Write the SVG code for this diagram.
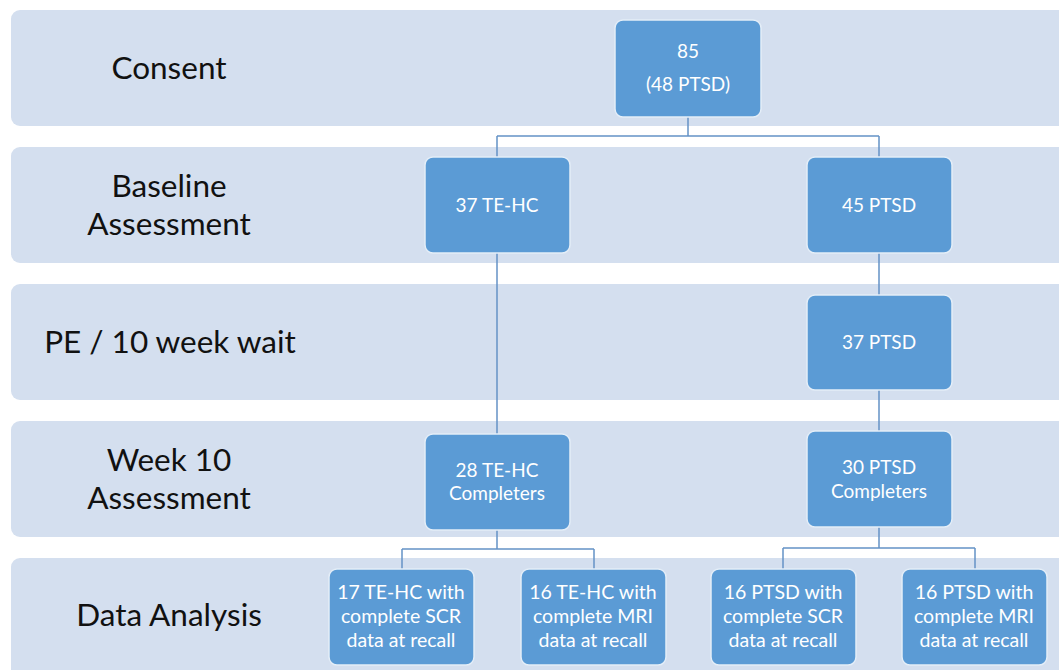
<svg xmlns="http://www.w3.org/2000/svg" width="1059" height="670" viewBox="0 0 1059 670">
<style>
.band{fill:#d4dfef;}
.lab{font-family:Lato,"Liberation Sans",sans-serif;font-size:31.5px;fill:#111;text-anchor:middle;}
.box{fill:#5b9bd5;stroke:#e4eef8;stroke-width:1.5;}
.bt{font-family:Lato,"Liberation Sans",sans-serif;font-size:19px;fill:#fff;text-anchor:middle;}
.bt2{font-family:Lato,"Liberation Sans",sans-serif;font-size:19.5px;fill:#fff;text-anchor:middle;}
.con{fill:none;stroke:#6492c6;stroke-width:1.5;}
</style>
<rect width="1059" height="670" fill="#fff"/>
<g id="bands">
<rect class="band" x="11" y="10" width="1070" height="116" rx="9"/>
<rect class="band" x="11" y="147" width="1070" height="116" rx="9"/>
<rect class="band" x="11" y="284" width="1070" height="116" rx="9"/>
<rect class="band" x="11" y="421" width="1070" height="116" rx="9"/>
<rect class="band" x="11" y="558" width="1070" height="130" rx="9"/>
</g>
<g id="stage-labels">
<text class="lab" x="169" y="79">Consent</text>
<text class="lab" x="169" y="197">Baseline</text>
<text class="lab" x="169" y="235">Assessment</text>
<text class="lab" x="170" y="353">PE / 10 week wait</text>
<text class="lab" x="169" y="471">Week 10</text>
<text class="lab" x="169" y="509">Assessment</text>
<text class="lab" x="169" y="626">Data Analysis</text>
</g>
<g id="connectors">
<path class="con" d="M688 117V136M497 136H879M497 136V157M879 136V157"/>
<path class="con" d="M497 253V434"/>
<path class="con" d="M879 253V295M879 390V431"/>
<path class="con" d="M497 530V549M402 549H594M402 549V569M594 549V569"/>
<path class="con" d="M879 527V548M783 548H975M783 548V569M975 548V569"/>
</g>
<g id="n85"><rect class="box" x="615" y="20" width="146" height="97" rx="8"/><text class="bt" x="688" y="58">85</text><text class="bt" x="688" y="91">(48 PTSD)</text></g>
<g id="n37tehc"><rect class="box" x="425" y="157" width="145" height="96" rx="8"/><text class="bt" x="497" y="212">37 TE-HC</text></g>
<g id="n45ptsd"><rect class="box" x="807" y="157" width="145" height="96" rx="8"/><text class="bt" x="879" y="212">45 PTSD</text></g>
<g id="n37ptsd"><rect class="box" x="807" y="295" width="145" height="95" rx="8"/><text class="bt" x="879" y="349">37 PTSD</text></g>
<g id="n28tehc"><rect class="box" x="425" y="434" width="145" height="96" rx="8"/><text class="bt" x="497" y="477">28 TE-HC</text><text class="bt" x="497" y="500">Completers</text></g>
<g id="n30ptsd"><rect class="box" x="807" y="431" width="145" height="96" rx="8"/><text class="bt" x="879" y="474">30 PTSD</text><text class="bt" x="879" y="498">Completers</text></g>
<g id="n17tehc-scr"><rect class="box" x="329" y="569" width="145" height="96" rx="8"/><text class="bt2" x="401" y="599">17 TE-HC with</text><text class="bt2" x="401" y="623">complete SCR</text><text class="bt2" x="401" y="647">data at recall</text></g>
<g id="n16tehc-mri"><rect class="box" x="521" y="569" width="145" height="96" rx="8"/><text class="bt2" x="593" y="599">16 TE-HC with</text><text class="bt2" x="593" y="623">complete MRI</text><text class="bt2" x="593" y="647">data at recall</text></g>
<g id="n16ptsd-scr"><rect class="box" x="711" y="569" width="145" height="96" rx="8"/><text class="bt2" x="783" y="599">16 PTSD with</text><text class="bt2" x="783" y="623">complete SCR</text><text class="bt2" x="783" y="647">data at recall</text></g>
<g id="n16ptsd-mri"><rect class="box" x="902" y="569" width="145" height="96" rx="8"/><text class="bt2" x="974" y="599">16 PTSD with</text><text class="bt2" x="974" y="623">complete MRI</text><text class="bt2" x="974" y="647">data at recall</text></g>
</svg>
